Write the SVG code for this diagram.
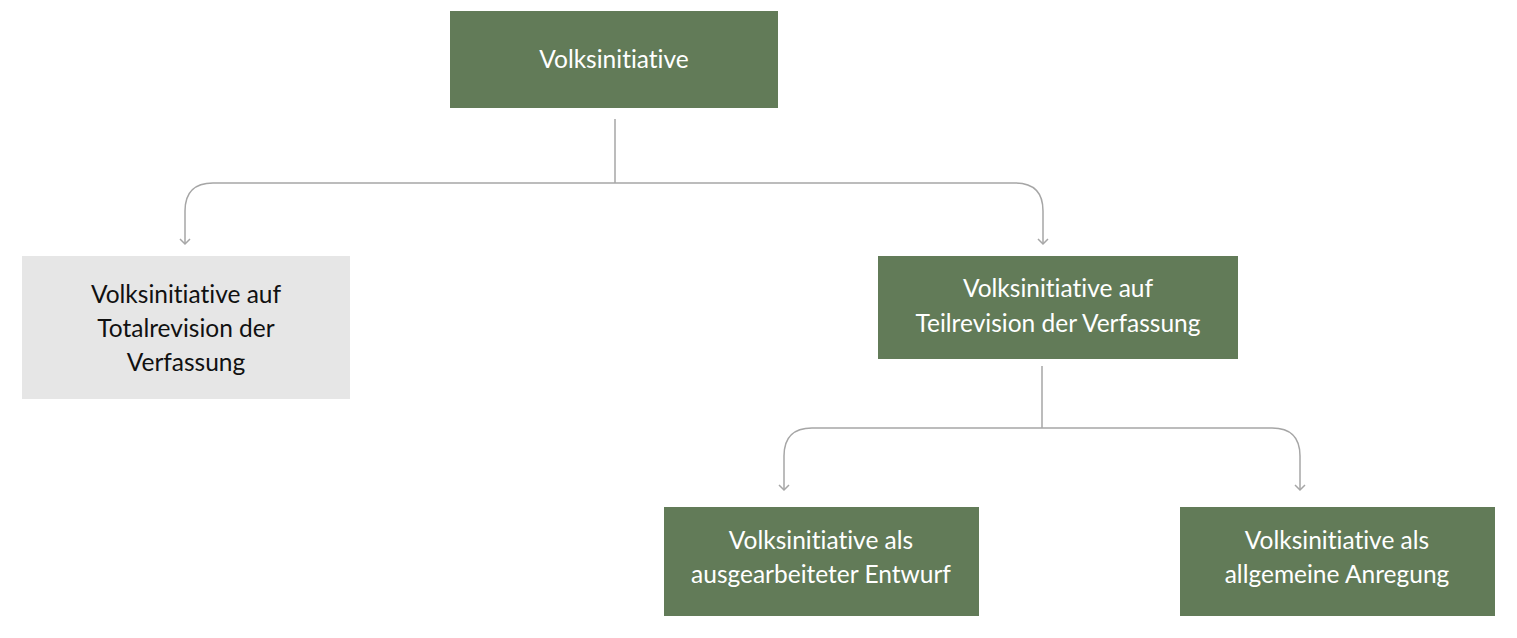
<svg xmlns="http://www.w3.org/2000/svg" width="1517" height="638" viewBox="0 0 1517 638">
<defs>
<style>
.g{fill:#627B58}
.l{fill:#E6E6E6}
.t{font-family:Lato,"Noto Sans","Liberation Sans",sans-serif;font-size:24.5px;text-anchor:middle;font-variant-ligatures:none}
.w{fill:#FFFFFF}
.k{fill:#111111}
.c{fill:none;stroke:#A6A6A6;stroke-width:1.5}
</style>
</defs>
<rect width="1517" height="638" fill="#FFFFFF"/>
<g id="connectors">
<path class="c" d="M615,119 V183"/>
<path class="c" d="M185,244 V211 Q185,183 213,183 H1015 Q1043,183 1043,211 V244"/>
<path class="c" d="M180,239 L185,244 L190,239 M1038,239 L1043,244 L1048,239"/>
<path class="c" d="M1042,366 V428"/>
<path class="c" d="M784,490 V456 Q784,428 812,428 H1272 Q1300,428 1300,456 V490"/>
<path class="c" d="M779,485 L784,490 L789,485 M1295,485 L1300,490 L1305,485"/>
</g>
<g id="n1">
<rect class="g" x="450" y="11" width="328" height="97"/>
<text class="t w" x="614" y="68">Volksinitiative</text>
</g>
<g id="n2">
<rect class="l" x="22" y="256" width="328" height="143"/>
<text class="t k" x="186" y="303">Volksinitiative auf</text>
<text class="t k" x="186" y="337">Totalrevision der</text>
<text class="t k" x="186" y="371">Verfassung</text>
</g>
<g id="n3">
<rect class="g" x="878" y="256" width="360" height="103"/>
<text class="t w" x="1058" y="297">Volksinitiative auf</text>
<text class="t w" x="1058" y="332">Teilrevision der Verfassung</text>
</g>
<g id="n4">
<rect class="g" x="664" y="507" width="315" height="109"/>
<text class="t w" x="821" y="549">Volksinitiative als</text>
<text class="t w" x="821" y="583">ausgearbeiteter Entwurf</text>
</g>
<g id="n5">
<rect class="g" x="1180" y="507" width="315" height="109"/>
<text class="t w" x="1337" y="549">Volksinitiative als</text>
<text class="t w" x="1337" y="583">allgemeine Anregung</text>
</g>
</svg>
